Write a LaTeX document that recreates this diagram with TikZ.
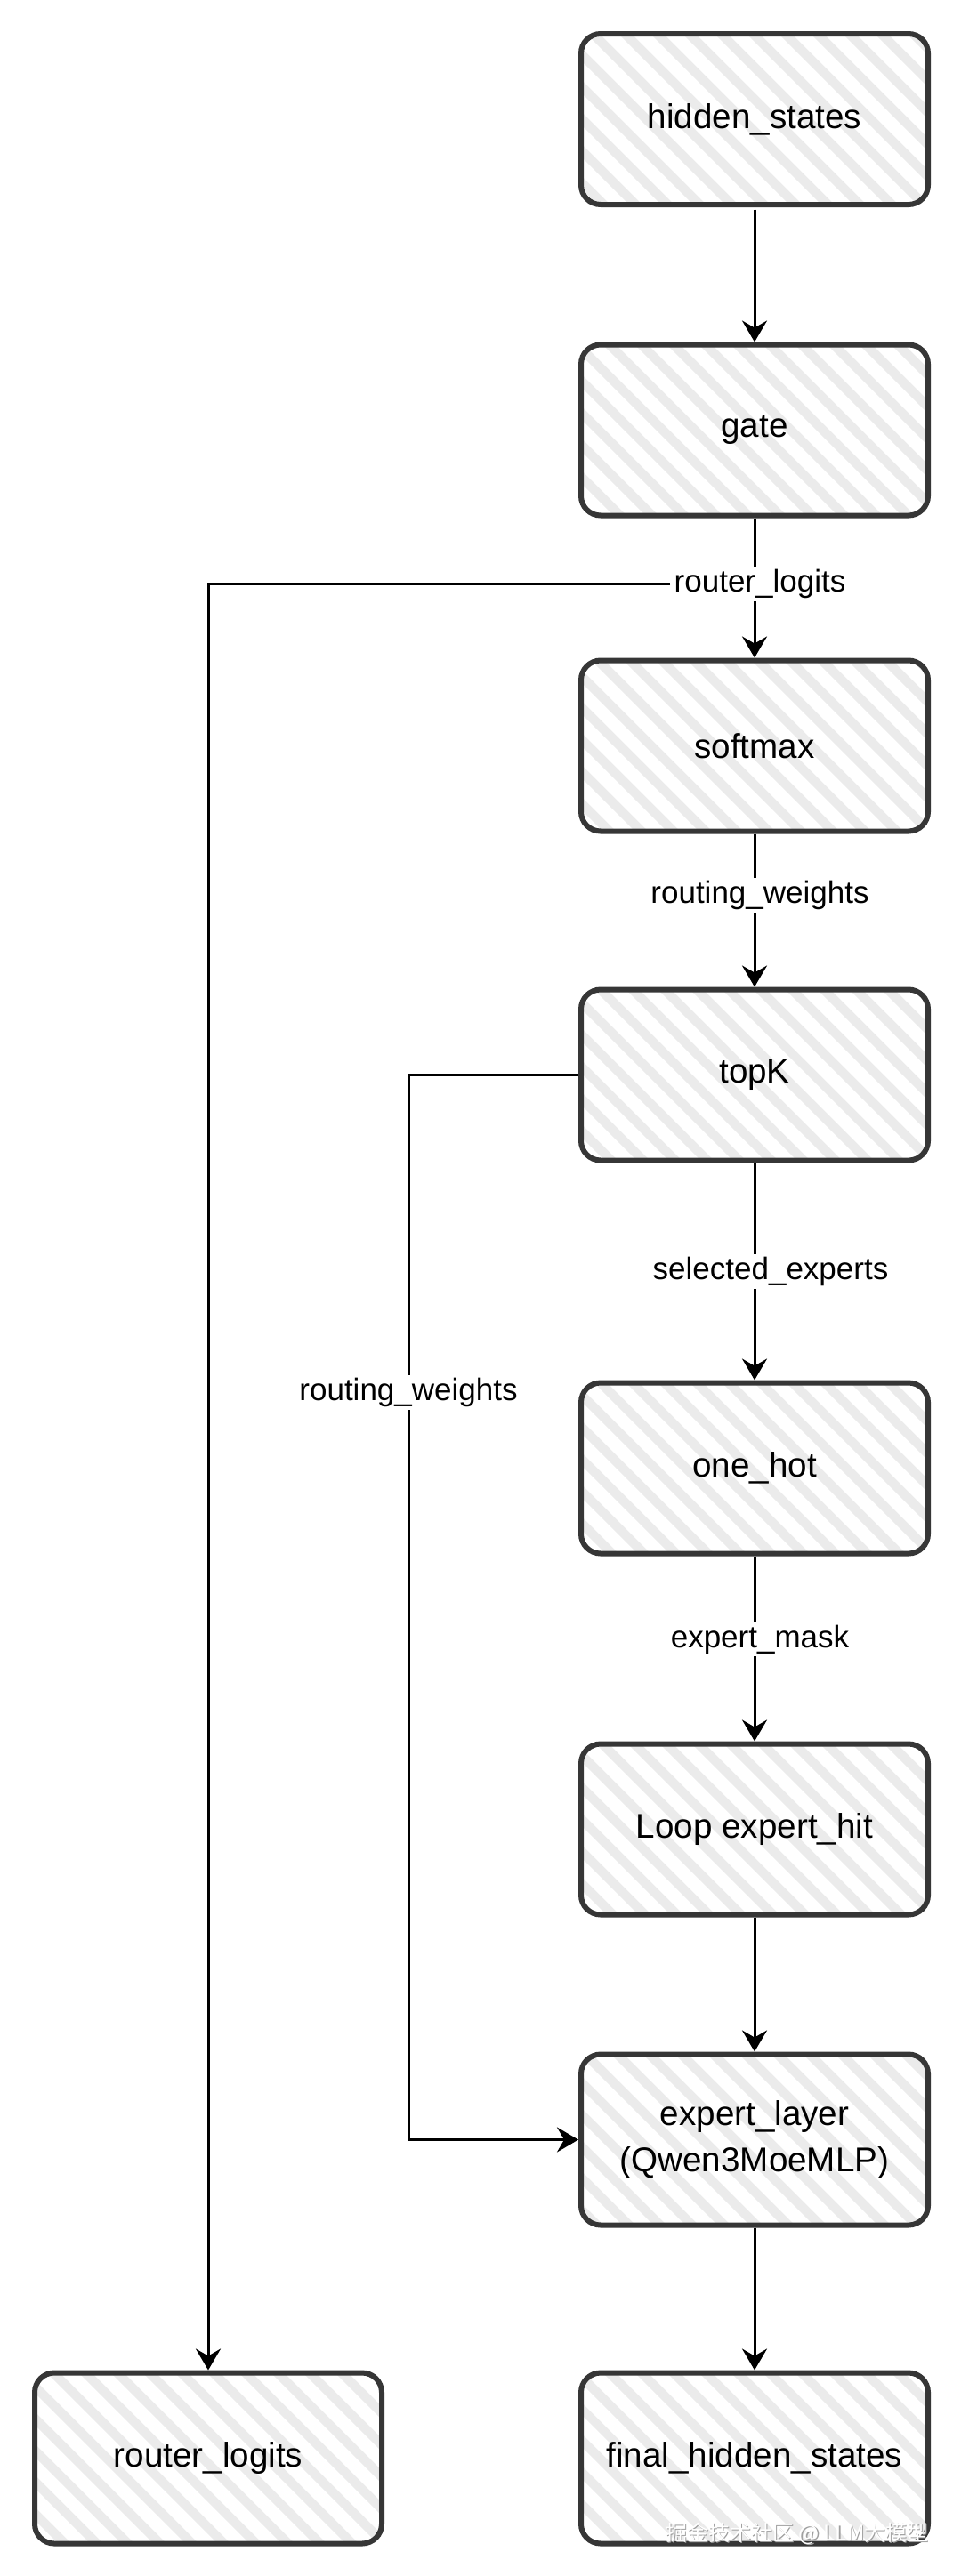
\documentclass[tikz,border=0pt]{standalone}
\usepackage{fontspec}
\setmainfont{Liberation Sans}
\newfontfamily\cjkfont{Noto Sans CJK SC}
\usetikzlibrary{arrows.meta,positioning,patterns.meta}
\definecolor{boxline}{HTML}{363636}
\definecolor{hatch}{HTML}{EBEBEB}

\begin{document}
\begin{tikzpicture}[
    node distance=75pt,
    every node/.style={align=center},
    stage/.style={
      rectangle, rounded corners=11pt, draw=boxline, line width=3pt,
      pattern={Lines[angle=-45,distance=13pt,line width=5.5pt]}, pattern color=hatch,
      minimum width=195pt, minimum height=96pt, inner sep=0pt,
      font=\fontsize{19.3pt}{26pt}\selectfont
    },
    tag/.style={fill=white, inner sep=1.5pt, font=\fontsize{17.5pt}{21pt}\selectfont},
    flow/.style={-{Stealth[length=12pt,width=14pt,inset=4pt]}, line width=1.5pt, draw=black},
    wmtext/.style={font=\cjkfont\fontsize{12pt}{14pt}\selectfont, inner sep=0pt}
  ]
    \useasboundingbox (0,0) rectangle (540pt,-1448pt);

    \node[stage] (hidden) at (424pt,-67pt) {hidden\_states};
    \node[stage, below=74.5pt of hidden] (gate) {gate};
    \node[stage, below=78.5pt of gate] (softmax) {softmax};
    \node[stage, below=86pt of softmax] (topk) {topK};
    \node[stage, below=122pt of topk] (onehot) {one\_hot};
    \node[stage, below=104pt of onehot] (loop) {Loop expert\_hit};
    \node[stage, below=75.5pt of loop] (expert) {expert\_layer\\(Qwen3MoeMLP)};
    \node[stage, below=80pt of expert] (final) {final\_hidden\_states};
    \node[stage, left=109pt of final] (router) {router\_logits};

    \draw[flow] (hidden) -- (gate);
    \draw[flow] (gate) -- node[tag, pos=0.47, xshift=3pt] (rl) {router\_logits} (softmax);
    \draw[flow] (rl.west) -| (router);
    \draw[flow] (softmax) -- node[tag, pos=0.4, xshift=3pt] {routing\_weights} (topk);
    \draw[flow] (topk) -- node[tag, xshift=9pt] {selected\_experts} (onehot);
    \draw[flow] (topk.west) -- ++(-95.5pt,0) |- node[tag, pos=0.149] {routing\_weights} (expert);
    \draw[flow] (onehot) -- node[tag, pos=0.45, xshift=3pt] {expert\_mask} (loop);
    \draw[flow] (loop) -- (expert);
    \draw[flow] (expert) -- (final);

    \node[wmtext, text=gray!75] (wmshadow) at (448.6pt,-1424.6pt) {掘金技术社区 @ LLM大模型};
    \node[wmtext, text=white] (watermark) at (448pt,-1424pt) {掘金技术社区 @ LLM大模型};
  \end{tikzpicture}
\end{document}
